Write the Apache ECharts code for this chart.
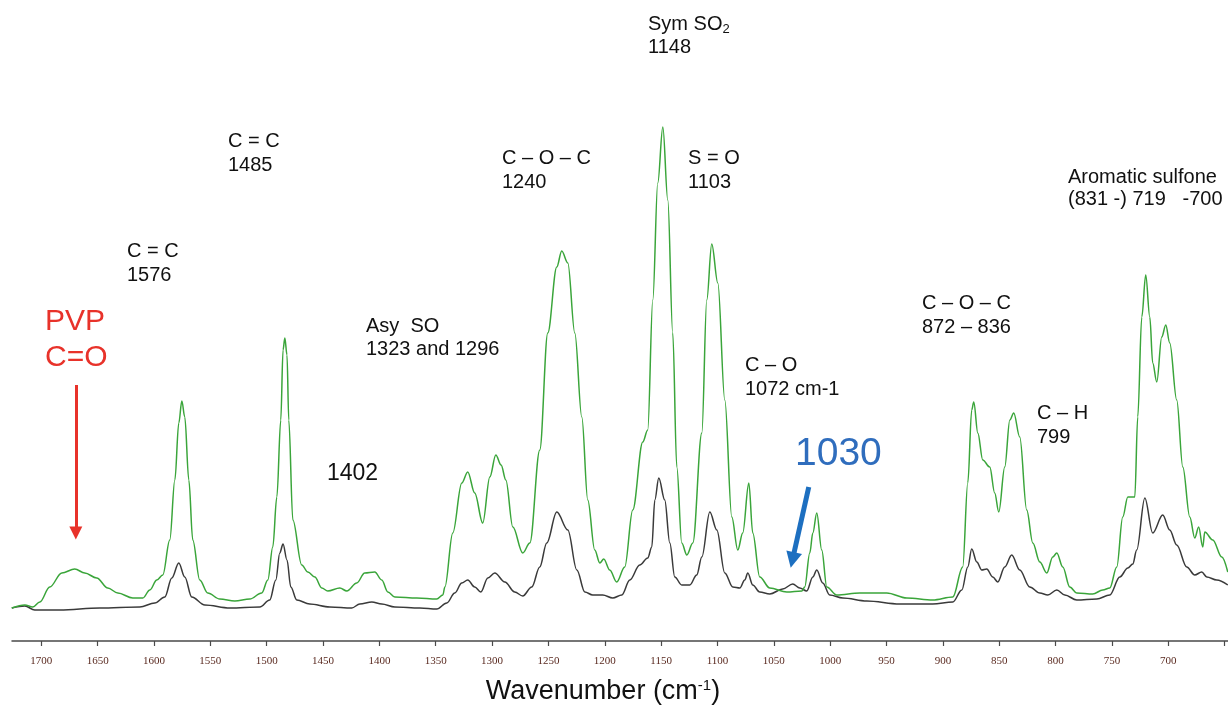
<!DOCTYPE html>
<html>
<head>
<meta charset="utf-8">
<script src="https://cdn.jsdelivr.net/npm/echarts@6/dist/echarts.min.js"></script>
<style>
html,body{margin:0;padding:0;background:#fff;}
#chart{width:1228px;height:707px;}
</style>
</head>
<body>
<div id="chart"></div>
<script>
// Wavenumber (cm-1) vs absorbance (arbitrary units)
const tickValues = [650,700,750,800,850,900,950,1000,1050,1100,1150,1200,1250,1300,1350,1400,1450,1500,1550,1600,1650,1700];
const tickLabels = [700,750,800,850,900,950,1000,1050,1100,1150,1200,1250,1300,1350,1400,1450,1500,1550,1600,1650,1700];

const greenSpectrum = [
[1726.2,33],[1714.6,36],[1707.5,34],[1701.3,39],[1692.5,54],[1681.8,68],[1670.3,72],[1661.4,68],[1650.8,63],[1641,53],[1632.1,48],[1618.8,43],[1609.9,43],[1603.7,51],[1597.5,61],[1592.2,66],[1586,101],[1581.5,161],[1578,218],[1575.3,240],[1572.7,224],[1569.1,161],[1565.6,101],[1559.4,61],[1552.3,48],[1541.6,42],[1528.3,40],[1515,42],[1504.4,48],[1499,61],[1494.6,94],[1491,144],[1487.5,221],[1485.5,291],[1483.9,303],[1482,286],[1480.4,221],[1476.8,121],[1468.9,76],[1463.5,69],[1457.3,64],[1451.1,53],[1445.8,50],[1435.1,53],[1428.9,50],[1420.1,58],[1413,68],[1404.1,69],[1397.9,61],[1392.5,49],[1386.3,44],[1366.8,43],[1349.1,42],[1343.7,46],[1341.9,54],[1334.9,108],[1326.9,158],[1321.6,169],[1315.4,148],[1308.3,118],[1302,164],[1296.7,186],[1292,176],[1287.8,161],[1281.6,114],[1272.8,88],[1266.5,98],[1257.7,191],[1250.6,308],[1242.6,374],[1238.2,390],[1232.8,378],[1226.6,308],[1220.4,224],[1215.1,141],[1208.9,91],[1204.4,78],[1200.9,82],[1195.6,71],[1189.4,59],[1182.3,74],[1175.2,131],[1166.3,199],[1161.9,211],[1157.4,341],[1153,458],[1148.5,514],[1144.1,441],[1139.7,308],[1136.1,174],[1131.7,98],[1127.2,86],[1121.9,98],[1113.9,208],[1109.5,341],[1105.1,397],[1099.7,358],[1093.5,241],[1087.3,124],[1082,91],[1077.6,108],[1072.2,158],[1068.7,108],[1062.5,64],[1053.6,53],[1038.5,49],[1025,50],[1022.6,54],[1018.1,88],[1015.4,108],[1011.9,128],[1007.5,91],[1003,54],[994.2,46],[973.7,48],[949.8,48],[932,43],[909,41],[891.2,44],[882.4,74],[877.9,158],[874.4,231],[872.6,239],[869,208],[864.6,181],[858.4,174],[854,148],[850.4,129],[845.1,174],[840.6,221],[837.1,228],[831.8,204],[825.6,131],[820.2,98],[814,79],[807.8,68],[802.5,84],[798.9,88],[793.6,74],[787.4,54],[781.2,48],[767,47],[758.1,51],[751.9,53],[745.7,74],[740.4,124],[735.9,144],[729.7,144],[727.1,224],[723.5,324],[720,366],[716.4,324],[713.8,278],[710.2,259],[705.8,304],[702.2,316],[698.7,298],[692.5,241],[687.1,174],[680.9,124],[676.5,103],[673,114],[669.4,94],[667.6,109],[660.5,101],[652.5,84],[647.2,69]
];

const blackSpectrum = [
[1726.2,33],[1714.6,35],[1705.8,31],[1683.6,31],[1648.1,33],[1612.6,34],[1599.3,38],[1590.4,44],[1584.2,63],[1578,78],[1572.7,64],[1566.5,44],[1554.9,36],[1532.7,33],[1506.1,34],[1497.3,41],[1491.9,61],[1488.4,88],[1485.5,97],[1482,81],[1478.6,54],[1473.3,41],[1461.8,37],[1444,34],[1424.5,33],[1417.4,37],[1406.7,39],[1397.9,37],[1386.3,34],[1364.2,33],[1349.1,32],[1340.2,38],[1333.1,48],[1326.9,58],[1321.6,61],[1315.4,54],[1310,49],[1303.8,63],[1297.6,68],[1288.7,59],[1279.9,49],[1272.8,45],[1264.8,54],[1257.7,74],[1251.5,98],[1242.6,129],[1232.8,111],[1224.8,71],[1217.7,49],[1210.7,46],[1201.8,46],[1192.9,43],[1184.9,46],[1177.8,61],[1169,76],[1161.9,83],[1158.3,94],[1155.6,141],[1152.1,163],[1146.8,141],[1142.3,98],[1137.9,64],[1131.7,56],[1124.6,56],[1118.4,66],[1113.9,84],[1106.8,129],[1100.6,111],[1093.5,68],[1086.4,54],[1080.2,53],[1075.8,61],[1073.1,68],[1068.7,56],[1062.5,49],[1053.6,47],[1042.1,52],[1033.2,57],[1027,53],[1020.8,50],[1015.4,64],[1011.9,71],[1006.6,58],[1000.4,46],[988.8,43],[967.5,40],[938.3,37],[909,37],[891.2,39],[883.2,51],[877.9,74],[874.4,92],[869.9,79],[865.5,71],[861.1,72],[855.7,64],[851.3,59],[845.1,74],[838.9,86],[831.8,71],[822.9,54],[814,48],[806.9,46],[798.9,51],[791.8,46],[781.2,41],[763.4,42],[751.9,46],[743,64],[735.9,73],[731.5,77],[728,91],[720.8,143],[713.8,108],[704.9,126],[698.7,111],[692.5,96],[683.6,74],[676.5,66],[670.3,69],[665.8,64],[657,61],[647.2,56]
];

const redArrow = [[1669.4,256],[1669.4,108]];
const blueArrow = [[1019.0,154],[1033.5,81]];

const chart = echarts.init(document.getElementById('chart'), null, {renderer:'canvas'});
const sans = 'Liberation Sans, Arial, sans-serif';
const lbl = (text, left, top, extra) => Object.assign({
  type:'text', left:left, top:top, silent:true,
  style:Object.assign({text:text, fill:'#111', font:'20px ' + sans, lineHeight:24}, extra||{})
});

chart.setOption({
  animation:false,
  backgroundColor:'#fff',
  grid:{left:12, right:0, top:0, bottom:66, containLabel:false, outerBoundsMode:'none'},
  xAxis:{
    type:'value', inverse:true, min:647, max:1726,
    axisLine:{show:true, onZero:false, lineStyle:{color:'#4a4a4a', width:1.5}},
    axisTick:{show:true, customValues:tickValues, length:5, lineStyle:{color:'#4a4a4a', width:1.2}},
    axisLabel:{customValues:tickLabels, formatter:function(v){return String(v);}, color:'#5a2a20', fontFamily:'Liberation Serif, Times New Roman, serif', fontSize:11, margin:15},
    splitLine:{show:false},
    name:'Wavenumber (cm{sup|-1})',
    nameLocation:'middle', nameGap:37,
    nameTextStyle:{color:'#111', fontFamily:sans, fontSize:27, padding:[0,34,0,0],
      rich:{sup:{fontSize:15, verticalAlign:'top', padding:[0,0,11,0], fontFamily:sans, color:'#111'}}}
  },
  yAxis:{type:'value', min:0, max:641, show:false},
  series:[
    {
      type:'line', data:blackSpectrum, symbol:'none', smooth:0.35, smoothMonotone:'x',
      lineStyle:{color:'#3a3a3a', width:1.5}, z:2,
      markLine:{silent:true, symbol:['none','triangle'], symbolSize:[13,13], label:{show:false},
        data:[[{coord:redArrow[0]},{coord:redArrow[1]}]],
        lineStyle:{color:'#e8322a', width:3, type:'solid'}, emphasis:{disabled:true}}
    },
    {
      type:'line', data:greenSpectrum, symbol:'none', smooth:0.35, smoothMonotone:'x',
      lineStyle:{color:'#3aa53a', width:1.5}, z:3,
      markLine:{silent:true, symbol:['none','triangle'], symbolSize:[16,16], label:{show:false},
        data:[[{coord:blueArrow[0]},{coord:blueArrow[1]}]],
        lineStyle:{color:'#1d6fc0', width:5, type:'solid'}, emphasis:{disabled:true}}
    }
  ],
  graphic:[
    lbl('C = C\n1485', 228, 129),
    lbl('C = C\n1576', 127, 239),
    lbl('PVP\nC=O', 45, 304, {fill:'#e8322a', font:'30px ' + sans, lineHeight:36}),
    lbl('Asy  SO\n1323 and 1296', 366, 315, {lineHeight:23}),
    lbl('1402', 327, 462, {font:'23px ' + sans}),
    lbl('C \u2013 O \u2013 C\n1240', 502, 146),
    {type:'text', left:648, top:13, silent:true,
      style:{text:'Sym SO{sub|2}\n1148', fill:'#111', font:'20px ' + sans, lineHeight:23,
        rich:{sub:{fontSize:13, fontFamily:sans, fill:'#111', verticalAlign:'bottom', padding:[6,0,0,0]}}}},
    lbl('S = O\n1103', 688, 146),
    lbl('C \u2013 O\n1072 cm-1', 745, 353),
    lbl('1030', 795, 435, {fill:'#2f6dbd', font:'39px ' + sans}),
    lbl('C \u2013 O \u2013 C\n872 \u2013 836', 922, 291),
    lbl('C \u2013 H\n799', 1037, 401),
    lbl('Aromatic sulfone\n(831 -) 719   -700', 1068, 166, {lineHeight:22})
  ]
});
</script>
</body>
</html>
